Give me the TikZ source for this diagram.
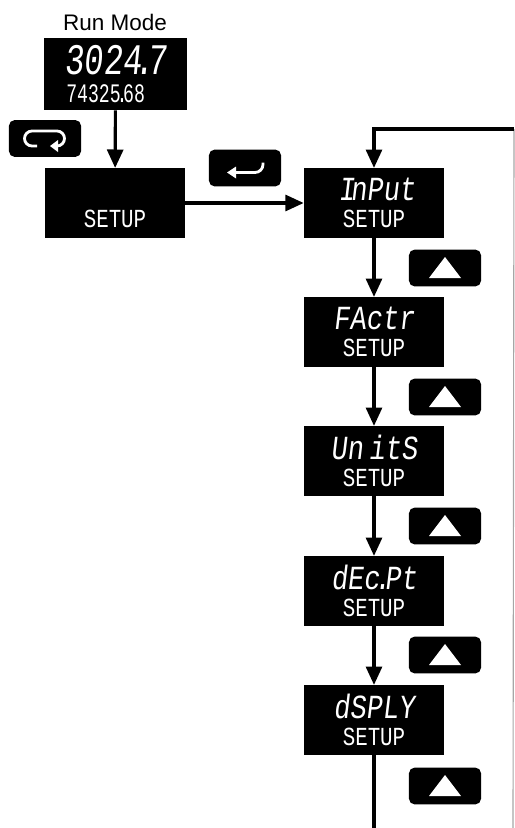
\documentclass[tikz,border=0pt]{standalone}
\usepackage{fontspec}
\setmainfont{Liberation Sans}
\newfontfamily\segbig[FakeSlant=0.12,FakeStretch=0.8]{Liberation Mono}
\newfontfamily\seghuge[FakeSlant=0.1,FakeStretch=0.74]{Liberation Mono}
\newfontfamily\segsmall[FakeStretch=0.8]{Liberation Mono}
\newfontfamily\segtiny[FakeStretch=0.68]{Liberation Mono}
\usetikzlibrary{arrows.meta}
\newcommand{\bigseg}{\segbig\fontsize{24}{24}\selectfont}
\newcommand{\hugeseg}{\seghuge\fontsize{31}{30}\selectfont}
\newcommand{\smallseg}{\segsmall\fontsize{18.5}{18}\selectfont}
\newcommand{\tinyseg}{\segtiny\fontsize{19}{18}\selectfont}
\tikzset{
    display/.style={fill=black, text=white, minimum width=3.5cm, minimum height=1.74cm, inner sep=0pt, align=center},
    keypad/.style={fill=black, rounded corners=4pt, minimum width=1.8cm, minimum height=0.92cm},
    flow/.style={line width=2.2pt, -{Triangle[length=0.46cm, width=0.4cm]}},
    plain/.style={line width=2.2pt},
    glyph/.style={white, line width=2pt}
}

\begin{document}
\begin{tikzpicture}[x=0.025cm, y=-0.025cm]
            \useasboundingbox (0,0) rectangle (514,828);
            \node (title) at (115,22) {\fontsize{16}{18}\selectfont Run Mode};
            \node [display, minimum width=3.58cm, minimum height=1.8cm] (run) at (115.5,74) {\hugeseg 3024\kern-5pt.\kern-5pt7\\[6pt]\tinyseg\kern-14pt 74325\kern-3pt.\kern-3pt68};
            \node [display] (setup) at (115,203) {\bigseg\phantom{X}\\[6pt]\smallseg SETUP};
            \node [display] (input) at (374,203) {\bigseg\kern4pt I\kern-3pt nPut\\[6pt]\smallseg SETUP};
            \node [display] (factr) at (374,332) {\bigseg FActr\\[6pt]\smallseg SETUP};
            \node [display] (units) at (374,461) {\bigseg Un\,itS\\[6pt]\smallseg SETUP};
            \node [display] (decpt) at (374,591) {\bigseg dEc\kern-4pt.\kern-4pt Pt\\[6pt]\smallseg SETUP};
            \node [display] (dsply) at (374,720) {\bigseg dSPLY\\[6pt]\smallseg SETUP};
            \coordinate (bottom) at (374,828);
            \coordinate (corner) at (374,129);
            \coordinate (edge) at (514,129);
            \coordinate (edgeend) at (513,828);
            % buttons
            \node [keypad] (loopkey) at (45,138.5) {};
            \node [keypad] (enterkey) at (245,168) {};
            \foreach \Name/\Y in {upa/268, upb/397, upc/526, upd/655, upe/786}{
                \node [keypad] (\Name) at (445,\Y) {};
                \fill [white] (\Name) ++(-16,10) -- ++(32,0) -- ++(-16,-21) -- cycle;
            }
            \draw [glyph] (37,146) -- (32,146) arc[start angle=90, end angle=270, radius=7.5] -- (57,131) arc[start angle=-90, end angle=90, radius=7.5] -- (53,146);
            \fill [white] (50,146) -- (58,140) -- (58,152) -- cycle;
            \draw [glyph] (234,172.5) -- (255,172.5) arc[start angle=90, end angle=0, radius=8] -- ++(0,-2);
            \fill [white] (227,172.5) -- (236,166.5) -- (236,178.5) -- cycle;
            % connectors
            \draw [gray!70, line width=0.8pt] (edge) -- (edgeend);
            \draw [flow] (run) -- (setup);
            \draw [flow] (setup) -- (input);
            \draw [flow] (input) -- (factr);
            \draw [flow] (factr) -- (units);
            \draw [flow] (units) -- (decpt);
            \draw [flow] (decpt) -- (dsply);
            \draw [plain] (dsply) -- (bottom);
            \draw [flow] (edge) -- (corner) -- (input);
\end{tikzpicture}
\end{document}
